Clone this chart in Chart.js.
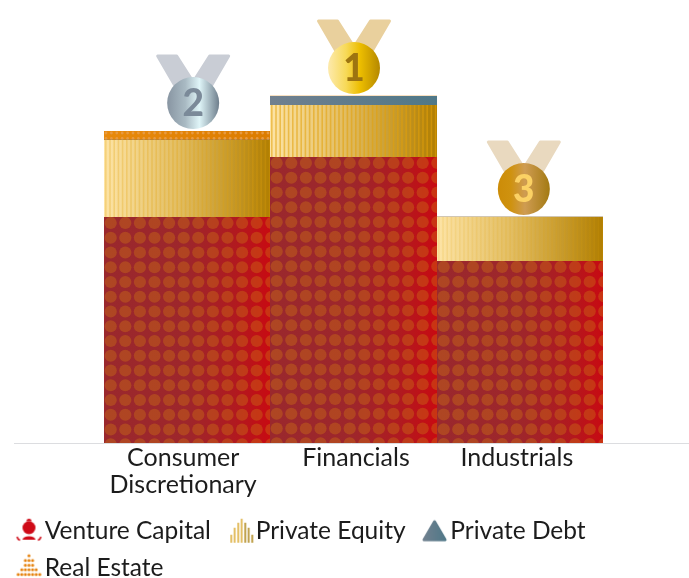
<!DOCTYPE html>
<html><head><meta charset="utf-8">
<script src="https://cdn.jsdelivr.net/npm/chart.js@4"></script>
<style>html,body{margin:0;padding:0;background:#fff}canvas{display:block}</style>
</head><body><canvas id="c" width="689" height="578"></canvas>
<script>
const categories = [['Consumer','Discretionary'],'Financials','Industrials'];
const ventureCapital = [22.6, 28.6, 18.2];
const privateEquity = [7.7, 5.2, 4.4];
const privateDebt = [0, 0.9, 0];
const realEstate = [0.9, 0, 0];
const medalRanks = ['2','1','3'];

const FONT = 'Lato, sans-serif';
const stacks = () => [ventureCapital, privateEquity, privateDebt, realEstate];

function barBox(c, ds, i){
  const x = c.chart.scales.x, y = c.chart.scales.y, all = stacks();
  let lo = 0; for (let k=0;k<ds;k++) lo += all[k][i];
  const hi = lo + all[ds][i];
  const w = x.getPixelForValue(1) - x.getPixelForValue(0);
  const left = x.getPixelForValue(i) - w/2;
  return {left, w, top:y.getPixelForValue(hi), h:y.getPixelForValue(lo)-y.getPixelForValue(hi)};
}
function tile(c, ds, paint, fallback){
  if (!c.chart.chartArea || c.dataIndex === undefined) return fallback;
  const b = barBox(c, ds, c.dataIndex);
  if (b.h <= 0) return fallback;
  const cv = document.createElement('canvas');
  cv.width = Math.ceil(b.w)+1; cv.height = Math.ceil(b.h)+1;
  const g = cv.getContext('2d');
  paint(g, b, c.dataIndex);
  const p = c.chart.ctx.createPattern(cv,'no-repeat');
  p.setTransform(new DOMMatrix().translate(Math.round(b.left), Math.round(b.top)));
  return p;
}
function hGrad(g, w, stops){
  const l = g.createLinearGradient(0,0,w,0);
  stops.forEach(s=>l.addColorStop(s[0],s[1]));
  return l;
}
function paintVC(g,b){
  g.fillStyle = hGrad(g,b.w,[[0,'#9a282d'],[.5,'#9e262b'],[.78,'#b01a20'],[1,'#c80a12']]);
  g.fillRect(0,0,b.w+1,b.h+1);
  g.fillStyle = 'rgba(205,115,20,.4)';
  for (let y=6;y<b.h+8;y+=14.75) for (let x=6.7;x<b.w+8;x+=14.6){
    g.beginPath(); g.arc(x,y,6.1,0,7); g.fill();
  }
}
const stripeAlpha = [.28,.55,.14];
function paintPE(g,b,i){
  g.fillStyle = hGrad(g,b.w,[[0,'#fde4a6'],[.45,'#e2bd62'],[1,'#b07e02']]);
  g.fillRect(0,0,b.w+1,b.h+1);
  g.fillStyle = 'rgba(226,160,10,'+stripeAlpha[i]+')';
  for (let x=1;x<b.w;x+=4.2) g.fillRect(x,0,1.6,b.h+1);
}
function paintPD(g,b){
  g.fillStyle = hGrad(g,b.w,[[0,'#71808f'],[1,'#4f7888']]);
  g.fillRect(0,0,b.w+1,b.h+1);
}
function paintRE(g,b){
  g.fillStyle = hGrad(g,b.w,[[0,'#e88a0c'],[1,'#dc7c00']]);
  g.fillRect(0,0,b.w+1,b.h+1);
  g.fillStyle = '#e79a42';
  for (const y of [2,7.5]) for (let x=2;x<b.w+2;x+=5.4){
    g.beginPath(); g.arc(x,y,1.4,0,7); g.fill();
  }
}
function icon(draw, shift){
  const cv = document.createElement('canvas');
  cv.width = 50; cv.height = 34;
  const g = cv.getContext('2d');
  g.translate(31.5+(shift||0),17);
  draw(g);
  return cv;
}
const iconVC = icon(g=>{
  g.fillStyle='#cf0a17';
  g.beginPath(); g.arc(0,-9.5,2.6,Math.PI,0); g.fill();
  g.beginPath(); g.arc(0,-3,6.5,0,7); g.fill();
  g.beginPath(); g.ellipse(0,9,6.5,3.5,0,Math.PI,0); g.fill();
  g.strokeStyle='#cf0a17'; g.lineWidth=1.5;
  for (const s of [-1,1]){
    g.beginPath(); g.moveTo(s*12,6); g.quadraticCurveTo(s*11.5,8.5,s*9,9.5); g.stroke();
  }
});
const iconPE = icon(g=>{
  const hs=[8,15,20,24,20,15,8];
  hs.forEach((h,k)=>{
    g.fillStyle = k<4 ? '#dcae3c' : '#b08a20';
    g.fillRect(-11.5+k*3.5,12-h,1.6,h);
  });
},2);
const iconPD = icon(g=>{
  const l=g.createLinearGradient(-12,0,12,0); l.addColorStop(0,'#71808f'); l.addColorStop(1,'#4f7888');
  g.fillStyle=l; g.strokeStyle=l; g.lineWidth=3; g.lineJoin='round';
  g.beginPath(); g.moveTo(0,-9); g.lineTo(10.5,9); g.lineTo(-10.5,9); g.closePath(); g.fill(); g.stroke();
});
const iconRE = icon(g=>{
  g.fillStyle='#e5820e';
  const rows=[1,3,3,5,7];
  rows.forEach((n,r)=>{ for(let k=0;k<n;k++){
    g.beginPath(); g.arc((k-(n-1)/2)*3.6,-12+r*4.7,1.5,0,7); g.fill();
  }});
});
const medals = [
 {ribbon:'#c9cdd5', digit:'#7b8a99', dx:6, stops:[[0,'#8895a2'],[.35,'#a9bac3'],[.62,'#dff5f8'],[1,'#6e7e8c']]},
 {ribbon:'#e9d09d', digit:'#9d7410', dx:.5, stops:[[0,'#fdeaae'],[.35,'#f7d957'],[.62,'#ecbd00'],[1,'#b58800']]},
 {ribbon:'#e9d9bf', digit:'#fbd164', dx:4, stops:[[0,'#cc8c08'],[.25,'#cf920f'],[.52,'#cf9c52'],[1,'#a37a12']]}
];
const medalPlugin = {
  id:'medals',
  afterDatasetsDraw(chart){
    const g = chart.ctx, xs = chart.scales.x, ys = chart.scales.y;
    medalRanks.forEach((rank,i)=>{
      const m = medals[i];
      const total = ventureCapital[i]+privateEquity[i]+privateDebt[i]+realEstate[i];
      const cx = xs.getPixelForValue(i)+m.dx, cy = ys.getPixelForValue(total)-28;
      g.save();
      g.fillStyle = m.ribbon; g.strokeStyle = m.ribbon; g.lineWidth = 3; g.lineJoin = 'round';
      for (const s of [-1,1]){
        g.beginPath();
        g.moveTo(cx+s*35.5,cy-47); g.lineTo(cx+s*16.5,cy-47);
        g.lineTo(cx+s*-2,cy-18); g.lineTo(cx+s*14,cy-10);
        g.closePath(); g.fill(); g.stroke();
      }
      const l = g.createLinearGradient(cx-26,0,cx+26,0);
      m.stops.forEach(t=>l.addColorStop(t[0],t[1]));
      g.fillStyle = l;
      g.beginPath(); g.arc(cx,cy,26,0,7); g.fill();
      g.fillStyle = m.digit;
      g.font = '900 37px '+FONT; g.textAlign='center'; g.textBaseline='middle';
      g.fillText(rank,cx,cy+1);
      g.restore();
    });
  }
};
const baselinePlugin = {
  id:'baseline',
  beforeDatasetsDraw(chart){
    const g = chart.ctx, b = chart.chartArea.bottom;
    g.save(); g.strokeStyle='#dcdde0'; g.lineWidth=1;
    g.beginPath(); g.moveTo(14,b+.5); g.lineTo(689,b+.5); g.stroke(); g.restore();
  }
};
const labelNudge = [-4,2.5,-3];
new Chart(document.getElementById('c'),{
  type:'bar',
  plugins:[baselinePlugin,medalPlugin],
  data:{labels:categories,datasets:[
    {label:'Venture Capital',data:ventureCapital,backgroundColor:c=>tile(c,0,paintVC,'#b01a20'),legendIcon:iconVC},
    {label:'Private Equity',data:privateEquity,backgroundColor:c=>tile(c,1,paintPE,'#d9ae4c'),legendIcon:iconPE},
    {label:'Private Debt',data:privateDebt,backgroundColor:c=>tile(c,2,paintPD,'#607b8b'),legendIcon:iconPD},
    {label:'Real Estate',data:realEstate,backgroundColor:c=>tile(c,3,paintRE,'#e2830a'),legendIcon:iconRE}
  ]},
  options:{
    responsive:false,animation:false,
    layout:{padding:{bottom:-12}},
    datasets:{bar:{barThickness:166.4}},
    scales:{
      x:{stacked:true,grid:{display:false,drawTicks:false},border:{display:false},
        ticks:{color:'#1c1c1c',font:{family:FONT,size:25,lineHeight:1.08},padding:1,maxRotation:0,autoSkip:false},
        afterFit(s){
          s.height=63;
          const f=Object.getPrototypeOf(s).getPixelForTick;
          s.getPixelForTick=function(i){return f.call(this,i)+labelNudge[i];};
        }},
      y:{stacked:true,min:0,max:44.3,grid:{display:false},border:{display:false},ticks:{display:false},afterFit(s){s.width=104;}},
      r:{position:'right',grid:{display:false},border:{display:false},ticks:{display:false},afterFit(s){s.width=86;}}
    },
    plugins:{
      tooltip:{enabled:false},
      legend:{position:'bottom',align:'start',
        labels:{usePointStyle:true,pointStyleWidth:20,padding:12.5,color:'#1c1c1c',font:{family:FONT,size:24.5},
          generateLabels(chart){
            return chart.data.datasets.map((d,i)=>({text:d.label,pointStyle:d.legendIcon,fontColor:'#1c1c1c',datasetIndex:i,lineWidth:0,strokeStyle:'transparent',fillStyle:'transparent'}));
          }}}
    }
  }
});
</script></body></html>
